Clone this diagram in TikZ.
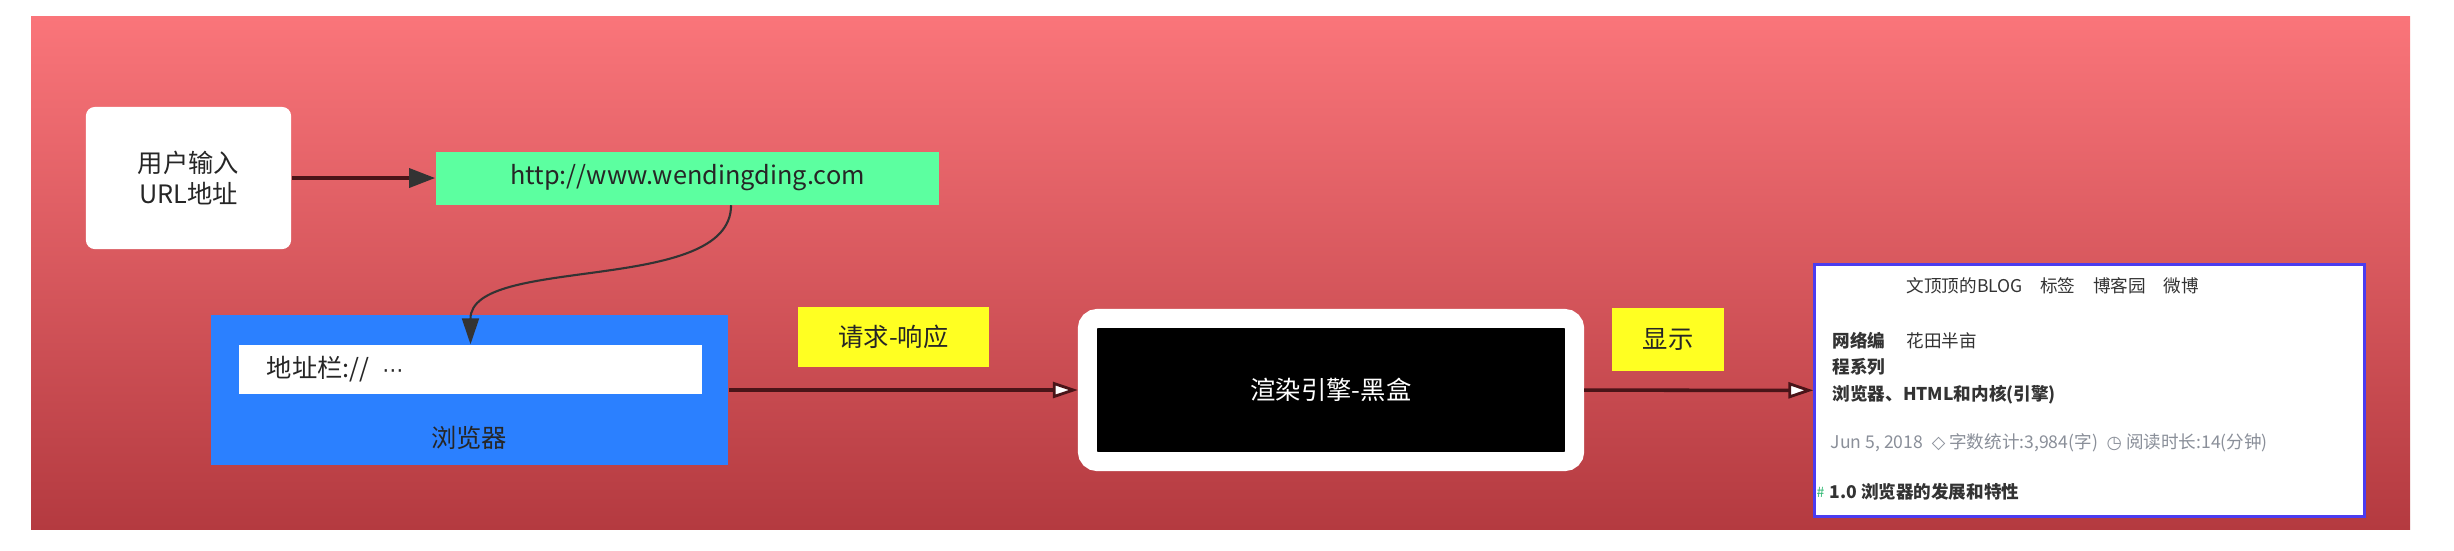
\documentclass[tikz,border=0pt]{standalone}
\usepackage{fontspec}
\setmainfont{Noto Sans CJK SC}
\newfontfamily\iconfont{DejaVu Sans}
\usepackage{xcolor}
\usetikzlibrary{arrows.meta, positioning}

\definecolor{bgtop}{HTML}{FA757A}
\definecolor{bgbot}{HTML}{B43A40}
\definecolor{urlgreen}{HTML}{5CFFA0}
\definecolor{browserblue}{HTML}{2B80FF}
\definecolor{tagyellow}{HTML}{FFFF22}
\definecolor{linkdark}{HTML}{4A1418}
\definecolor{shotblue}{HTML}{4B3CF0}
\definecolor{metagray}{HTML}{8A8F99}
\definecolor{hashgreen}{HTML}{2EB872}

\begin{document}
\begin{tikzpicture}[x=0.01cm, y=-0.01cm,
    font=\fontsize{7.2}{8.6}\selectfont,
    flatbox/.style={inner sep=0pt, align=center, text=black!85},
    shottext/.style={anchor=west, inner sep=0pt, align=left,
        font=\fontsize{5}{7.6}\selectfont, text=black!80},
    solidlink/.style={line width=1pt, draw=linkdark,
        -{Triangle[length=0.26cm, width=0.19cm, color=black!80]}},
    openlink/.style={line width=1pt, draw=linkdark,
        -{Triangle[length=0.25cm, width=0.16cm, fill=white, line width=0.8pt]}}]

    % =================================================================
    % 1. KHUNG NEN (2454 x 550, nen do chuyen mau)
    % =================================================================
    \useasboundingbox (0,0) rectangle (2454,550);
    \shade[top color=bgtop, bottom color=bgbot] (31,16) rectangle (2410,529);

    % =================================================================
    % 2. CAC KHOI BEN TRAI: NGUOI DUNG, URL, TRINH DUYET
    % =================================================================
    \node[flatbox, fill=white, rounded corners=2.5pt,
          minimum width=2.05cm, minimum height=1.42cm] (user) at (188.5,178) {用户输入\\URL地址};
    \node[flatbox, fill=urlgreen,
          minimum width=5.03cm, minimum height=0.53cm] (url) at (687.5,178) {http://www.wendingding.com};

    \node[flatbox, fill=browserblue,
          minimum width=5.17cm, minimum height=1.49cm] (browser) at (469.5,390) {};
    \node[flatbox, fill=white, align=left, text width=4.07cm, inner xsep=0.28cm,
          minimum height=0.49cm] (addrbar) at (470.5,369.5) {地址栏://\enspace{\iconfont\fontsize{6}{8}\selectfont ⋯}};
    \node[flatbox] (browserlabel) at (469,438) {浏览器};

    % =================================================================
    % 3. KHOI GIUA VA NHAN VANG
    % =================================================================
    \node[flatbox, fill=tagyellow,
          minimum width=1.91cm, minimum height=0.60cm] (request) at (893.5,337) {请求-响应};
    \node[flatbox, fill=black, draw=white, line width=0.19cm, rounded corners=0.1cm,
          text=white, minimum width=4.87cm, minimum height=1.43cm] (engine) at (1331,390) {渲染引擎-黑盒};
    \node[flatbox, fill=tagyellow,
          minimum width=1.12cm, minimum height=0.63cm] (display) at (1668,339.5) {显示};

    % =================================================================
    % 4. ANH CHUP TRANG BLOG
    % =================================================================
    \node[fill=white, draw=shotblue, line width=0.85pt, inner sep=0pt,
          minimum width=5.49cm, minimum height=2.51cm] (shot) at (2089.5,390.5) {};

    \node[shottext] (shottitle) at (1906,286) {文顶顶的BLOG\quad 标签\quad 博客园\quad 微博};
    \node[shottext, font=\fontsize{5}{7.6}\selectfont\bfseries] (shotheading) at (1832,368)
        {网络编\\程系列\\浏览器、HTML和内核(引擎)};
    \node[shottext] (shotname) at (1906,341) {花田半亩};
    \node[shottext, text=metagray] (shotmeta) at (1830,443)
        {Jun 5, 2018\enspace{\iconfont ◇} 字数统计:3,984(字)\enspace{\iconfont ◷} 阅读时长:14(分钟)};
    \node[shottext, text=hashgreen, font=\fontsize{4}{5}\selectfont] (shothash) at (1816,492) {\#};
    \node[shottext, font=\fontsize{5}{7.6}\selectfont\bfseries, right=1pt of shothash] (shotsection)
        {1.0 浏览器的发展和特性};

    % =================================================================
    % 5. CAC MUI TEN NOI
    % =================================================================
    \draw[solidlink] (user) -- (url);
    \draw[line width=0.6pt, draw=black!80, -{Triangle[length=0.26cm, width=0.17cm, color=black!80]}]
        (url.-32) .. controls +(0,90) and +(0,-90) .. (addrbar.north);
    \draw[openlink] (browser) -- (engine);
    \draw[openlink] (engine) -- (shot);

\end{tikzpicture}
\end{document}
